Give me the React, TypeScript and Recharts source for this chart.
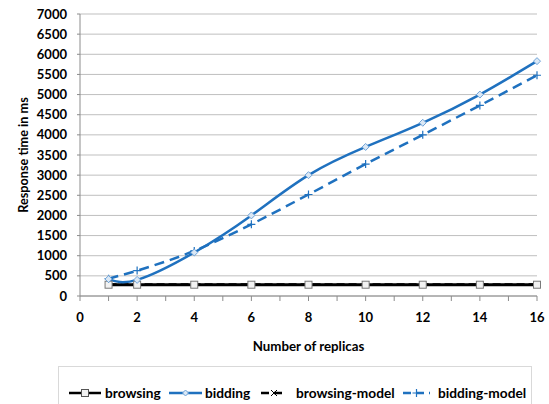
import React from 'react';
import { LineChart, Line, XAxis, YAxis, CartesianGrid } from 'recharts';

const replicas = [1, 2, 4, 6, 8, 10, 12, 14, 16];
const browsing = [280, 280, 280, 280, 280, 280, 280, 280, 280];
const bidding = [420, 400, 1080, 2000, 3000, 3700, 4300, 5000, 5830];
const browsingModel = [285, 285, 285, 285, 285, 285, 285, 285, 285];
const biddingModel = [430, 630, 1120, 1780, 2520, 3275, 4000, 4730, 5480];
const xTicks = [0, 1, 2, 3, 4, 5, 6, 7, 8, 9, 10, 11, 12, 13, 14, 15, 16];
const yTicks = [0, 500, 1000, 1500, 2000, 2500, 3000, 3500, 4000, 4500, 5000, 5500, 6000, 6500, 7000];

const data = replicas.map((r, i) => ({
  x: r,
  browsing: browsing[i],
  bidding: bidding[i],
  browsingModel: browsingModel[i],
  biddingModel: biddingModel[i],
}));

const BLUE = '#1f71bf';
const FONT = 'Lato, "Open Sans", sans-serif';

const SquareDot = (props: any) => {
  const { cx, cy } = props;
  if (cx == null || cy == null) return null;
  return <rect x={cx - 3.5} y={cy - 3.5} width={7} height={7} fill="#f2f2f2" stroke="#7a7a7a" strokeWidth={1} />;
};
const DiamondDot = (props: any) => {
  const { cx, cy } = props;
  if (cx == null || cy == null) return null;
  return <path d={`M${cx},${cy - 3.5} L${cx + 3.5},${cy} L${cx},${cy + 3.5} L${cx - 3.5},${cy} Z`} fill="#dbe8f5" stroke="#6fa3d8" strokeWidth={1} />;
};
const CrossDot = (props: any) => {
  const { cx, cy } = props;
  if (cx == null || cy == null) return null;
  return <path d={`M${cx - 3},${cy - 3} L${cx + 3},${cy + 3} M${cx - 3},${cy + 3} L${cx + 3},${cy - 3}`} stroke="#000" strokeWidth={1} />;
};
const PlusDot = (props: any) => {
  const { cx, cy } = props;
  if (cx == null || cy == null) return null;
  return <path d={`M${cx - 4},${cy} L${cx + 4},${cy} M${cx},${cy - 4} L${cx},${cy + 4}`} stroke={BLUE} strokeWidth={1.2} />;
};

const legendItems = [
  { label: 'browsing', color: '#000', dash: '', marker: 'square', lineW: 32, gap: 4, left: 69 },
  { label: 'bidding', color: BLUE, dash: '', marker: 'diamond', lineW: 33, gap: 3, left: 169 },
  { label: 'browsing-model', color: '#000', dash: '8 5', marker: 'cross', lineW: 26, gap: 9, left: 261 },
  { label: 'bidding-model', color: BLUE, dash: '8 5', marker: 'plus', lineW: 27, gap: 8, left: 403 },
];

const LegendMark = ({ item }: any) => {
  const w = item.lineW;
  const cy = 6;
  const cx = w / 2;
  let m: any = null;
  if (item.marker === 'square') m = <rect x={cx - 3.5} y={cy - 3.5} width={7} height={7} fill="#f2f2f2" stroke="#555" strokeWidth={1} />;
  if (item.marker === 'diamond') m = <path d={`M${cx},${cy - 3} L${cx + 3},${cy} L${cx},${cy + 3} L${cx - 3},${cy} Z`} fill="#dbe8f5" stroke="#6fa3d8" />;
  if (item.marker === 'cross') m = <path d={`M${cx - 3},${cy - 3} L${cx + 3},${cy + 3} M${cx - 3},${cy + 3} L${cx + 3},${cy - 3}`} stroke="#000" strokeWidth={1} />;
  if (item.marker === 'plus') m = <path d={`M${cx - 4},${cy} L${cx + 4},${cy} M${cx},${cy - 4} L${cx},${cy + 4}`} stroke={BLUE} strokeWidth={1.2} />;
  return (
    <svg width={w} height={12} style={{ display: 'block', flex: 'none' }}>
      <line x1={0} y1={cy} x2={w} y2={cy} stroke={item.color} strokeWidth={2.5} strokeDasharray={item.dash || undefined} />
      {m}
    </svg>
  );
};

export default function App() {
  return (
    <div style={{ position: 'absolute', left: 0, top: 0, width: 549, height: 404, background: '#fff', overflow: 'hidden' }}>
      <LineChart width={549} height={404} data={data} margin={{ top: 14, right: 12, bottom: 0, left: 0 }}>
        <CartesianGrid vertical={false} stroke="#bfbfbf" strokeWidth={1} />
        <XAxis
          dataKey="x"
          type="number"
          domain={[0, 16]}
          ticks={xTicks}
          interval={0}
          tickFormatter={(v: number) => (v % 2 === 0 ? String(v) : '')}
          height={108}
          axisLine={{ stroke: '#8c8c8c' }}
          tickLine={{ stroke: '#8c8c8c' }}
          tickSize={5}
          tickMargin={12}
          tick={{ fill: '#000', fontSize: 13, fontWeight: 700, fontFamily: FONT }}
          label={{ value: 'Number of replicas', position: 'insideTop', offset: 46, fill: '#000', fontSize: 13.3, fontWeight: 700, fontFamily: FONT }}
        />
        <YAxis
          type="number"
          domain={[0, 7000]}
          ticks={yTicks}
          interval={0}
          width={80}
          axisLine={{ stroke: '#8c8c8c' }}
          tickLine={{ stroke: '#8c8c8c' }}
          tickSize={3}
          tickMargin={10}
          tick={{ fill: '#000', fontSize: 13, fontWeight: 700, fontFamily: FONT }}
          label={{ value: 'Response time in ms', angle: -90, position: 'center', dx: -17, fill: '#000', fontSize: 12.7, fontWeight: 700, fontFamily: FONT }}
        />
        <Line dataKey="browsingModel" type="linear" stroke="#000" strokeWidth={2.5} strokeDasharray="8 4" dot={<CrossDot />} isAnimationActive={false} />
        <Line dataKey="browsing" type="linear" stroke="#000" strokeWidth={3} dot={<SquareDot />} isAnimationActive={false} />
        <Line dataKey="biddingModel" type="monotone" stroke={BLUE} strokeWidth={2.5} strokeDasharray="10 6" dot={<PlusDot />} isAnimationActive={false} />
        <Line dataKey="bidding" type="natural" stroke={BLUE} strokeWidth={2.5} dot={<DiamondDot />} isAnimationActive={false} />
      </LineChart>
      <div style={{ position: 'absolute', left: 58, top: 366, width: 474, height: 50, border: '1px solid #d9d9d9', boxSizing: 'border-box' }} />
      {legendItems.map((item) => (
        <div key={item.label} style={{ position: 'absolute', left: item.left, top: 384, display: 'flex', alignItems: 'center', fontFamily: FONT, fontWeight: 700, fontSize: 13.7, color: '#000', whiteSpace: 'nowrap', lineHeight: '18px' }}>
          <LegendMark item={item} />
          <span style={{ marginLeft: item.gap }}>{item.label}</span>
        </div>
      ))}
    </div>
  );
}
